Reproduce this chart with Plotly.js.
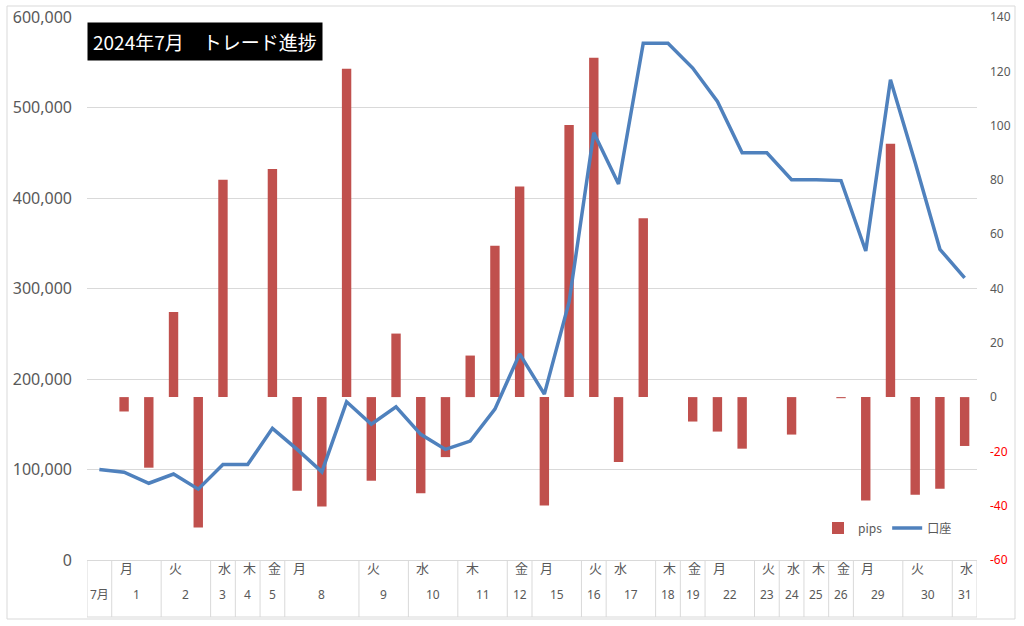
<!DOCTYPE html>
<html>
<head>
<meta charset="utf-8">
<script src="https://cdn.plot.ly/plotly-3.0.1.min.js"></script>
<style>
  body { margin: 0; background: #fff; }
  #chart { width: 1024px; height: 626px; }
</style>
</head>
<body>
<div id="chart"></div>
<script>
// one entry per trade (first one is the starting balance of the month)
var catDates = ['7月', '1', '1', '2', '2', '3', '4', '5', '8', '8', '8', '9', '9', '10', '10', '11', '11', '12',
    '15', '15', '16', '17', '17', '18', '19', '22', '22', '23', '24', '25', '26', '29', '29', '30', '30', '31'];
var catWeekdays = ['', '月', '', '火', '', '水', '木', '金', '月', '', '', '火', '', '水', '', '木', '', '金',
    '月', '', '火', '水', '', '木', '金', '月', '', '火', '水', '木', '金', '月', '', '火', '', '水'];

var pips = [null, -5.3, -26, 31.3, -48, 80.1, 0, 84.0, -34.5, -40.3, 120.9, -30.8, 23.4, -35.4, -22.1, 15.3,
    55.7, 77.6, -39.9, 100.2, 125, -23.9, 65.9, 0, -9.0, -12.7, -19.0, 0, -13.8, 0, -0.4, -38.1, 93.3,
    -36.0, -33.8, -18.0];
var balance = [100000, 97000, 84800, 95000, 78300, 105500, 105500, 145500, 122200, 97400, 174800, 150000,
    169200, 138900, 122200, 131400, 166700, 227800, 183300, 285200, 472200, 415500, 571000, 571000,
    543600, 506600, 450000, 450000, 420300, 420300, 419200, 341400, 530700, 438900, 343300, 311800];

var pipsTicks = [-60, -40, -20, 0, 20, 40, 60, 80, 100, 120, 140];
var balanceTicks = [0, 100000, 200000, 300000, 400000, 500000, 600000];

var GRID = '#D9D9D9';
var TXT = '#595959';
var FONT = '"Noto Sans", "Noto Sans CJK JP", sans-serif';
var JP_FONT = '"Noto Sans CJK JP", sans-serif';

// plot area in pixels: 87..977 x 17..560
var PLOT_H = 543;
function py(pix){ return (560 - pix) / PLOT_H; }   // pixel y -> paper y
function px(pix){ return (pix - 87) / 890; }       // pixel x -> paper x

var xs = catDates.map(function(d, i){ return i; });

var data = [
    {
        x: xs,
        y: pips,
        name: 'pips',
        type: 'bar',
        width: 0.38,
        marker: { color: '#C0504D' },
        yaxis: 'y',
        hoverinfo: 'none'
    },
    {
        x: xs,
        y: balance,
        name: '口座',
        type: 'scatter',
        mode: 'lines',
        line: { color: '#4F81BD', width: 3.5 },
        yaxis: 'y2',
        hoverinfo: 'none'
    }
];

// category table under the plot: group the trades by date
var shapes = [];
var annotations = [];
var tableBottom = py(617);
var groupStart = 0;
for (var i = 1; i <= catDates.length; i++){
    if (i === catDates.length || catDates[i] !== catDates[groupStart]){
        // divider on the left of the group
        shapes.push({ type: 'line', xref: 'x', yref: 'paper', x0: groupStart - 0.5, x1: groupStart - 0.5,
            y0: 0, y1: tableBottom, line: { color: GRID, width: 1 } });
        annotations.push({ xref: 'x', yref: 'paper', x: (groupStart + i - 1) / 2, y: py(605),
            text: catDates[groupStart], showarrow: false, font: { family: FONT, size: 12, color: TXT } });
        if (catWeekdays[groupStart] !== ''){
            annotations.push({ xref: 'x', yref: 'paper', x: groupStart + 0.08, y: py(579),
                text: catWeekdays[groupStart], showarrow: false,
                font: { family: JP_FONT, size: 13, color: TXT } });
        }
        groupStart = i;
    }
}
shapes.push({ type: 'line', xref: 'x', yref: 'paper', x0: catDates.length - 0.5, x1: catDates.length - 0.5,
    y0: 0, y1: tableBottom, line: { color: GRID, width: 1 } });
shapes.push({ type: 'line', xref: 'x', yref: 'paper', x0: -0.5, x1: catDates.length - 0.5,
    y0: tableBottom, y1: tableBottom, line: { color: GRID, width: 1 } });

// outer border of the chart
shapes.push({ type: 'rect', xref: 'paper', yref: 'paper', x0: px(7), x1: px(1015), y0: py(619), y1: py(6),
    line: { color: GRID, width: 1 }, fillcolor: 'rgba(0,0,0,0)' });

// title box
annotations.push({
    xref: 'paper', yref: 'paper', x: 0, y: py(22), xanchor: 'left', yanchor: 'top',
    text: '2024年7月\u3000トレード進捗', showarrow: false,
    bgcolor: '#000000', borderpad: 5,
    font: { family: JP_FONT, size: 19, color: '#FFFFFF' }
});

var LAYOUT = {
    width: 1024,
    height: 626,
    margin: { l: 87, r: 47, t: 17, b: 66 },
    paper_bgcolor: '#FFFFFF',
    plot_bgcolor: '#FFFFFF',
    showlegend: true,
    legend: {
        orientation: 'h', x: px(818), y: py(528), xanchor: 'left', yanchor: 'middle',
        bgcolor: 'rgba(0,0,0,0)', font: { family: JP_FONT, size: 12, color: TXT },
        traceorder: 'normal'
    },
    xaxis: {
        type: 'linear', range: [-0.5, catDates.length - 0.5],
        showticklabels: false, ticks: '', showgrid: false, zeroline: false,
        showline: true, linecolor: GRID, linewidth: 1
    },
    // pips, right side
    yaxis: {
        side: 'right', range: [-60, 140],
        tickmode: 'array', tickvals: pipsTicks,
        ticktext: pipsTicks.map(function(v){
            return v < 0 ? '<span style="color:#FF0000">' + v + '</span>' : String(v);
        }),
        showgrid: false, zeroline: false, showline: false, ticks: '',
        ticklabelstandoff: 12,
        tickfont: { family: FONT, size: 12, color: TXT }
    },
    // balance, left side
    yaxis2: {
        side: 'left', overlaying: 'y', range: [0, 600000],
        tickmode: 'array', tickvals: balanceTicks, tickformat: ',d',
        showgrid: true, gridcolor: GRID, gridwidth: 1, zeroline: false, showline: false, ticks: '',
        ticklabelstandoff: 14,
        tickfont: { family: FONT, size: 16, color: TXT }
    },
    shapes: shapes,
    annotations: annotations
};

Plotly.newPlot('chart', data, LAYOUT, { staticPlot: true, displayModeBar: false });
</script>
</body>
</html>
